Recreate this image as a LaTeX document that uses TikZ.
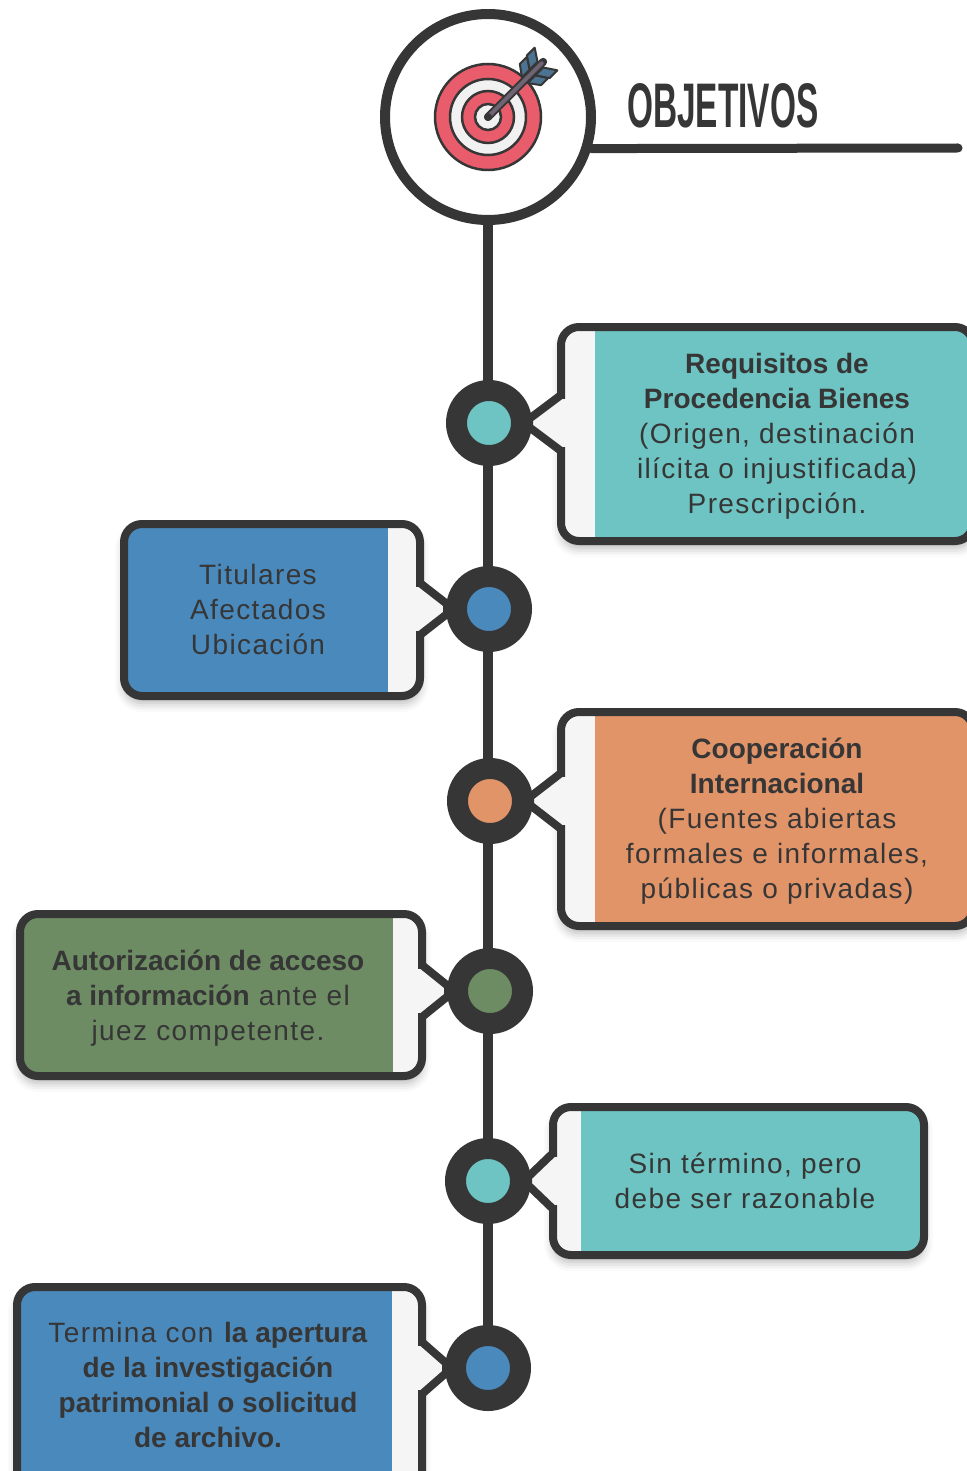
\documentclass[tikz,border=0pt]{standalone}
\usepackage{fontspec}
\setmainfont{Liberation Sans}[LetterSpace=5,BoldFeatures={LetterSpace=0}]
\newfontfamily\headfont{Liberation Sans}[FakeStretch=0.53]
\usetikzlibrary{calc,shadows.blur}
\definecolor{ink}{HTML}{363636}
\definecolor{strip}{HTML}{F5F5F5}
\definecolor{cteal}{HTML}{6DC4C2}
\definecolor{cblue}{HTML}{4A89BC}
\definecolor{corange}{HTML}{E29469}
\definecolor{cgreen}{HTML}{6D8C63}
\definecolor{tred}{HTML}{E95C6B}
\definecolor{twhite}{HTML}{F1F1F1}
\definecolor{shaft}{HTML}{6E6474}
\definecolor{feather}{HTML}{4C7391}
\tikzset{%
  box/.style={rounded corners=18pt, draw=ink, line width=8pt, fill=strip, inner sep=0pt, outer sep=0pt,%
    blur shadow={shadow xshift=0pt, shadow yshift=-7pt, shadow blur radius=9pt, shadow opacity=30}},%
  rbox/.style 2 args={box, path picture={\fill[#1, sharp corners]
      ([xshift=#2pt]path picture bounding box.south west) rectangle (path picture bounding box.north east);}},%
  lbox/.style 2 args={box, path picture={\fill[#1, sharp corners]
      (path picture bounding box.south west) rectangle ([xshift=-#2pt]path picture bounding box.north east);}},%
  pointer/.style={fill=strip, draw=ink, line width=8pt, line cap=round},%
  dot/.style={circle, draw=ink, line width=21pt, minimum size=65pt, inner sep=0pt},%
  spine/.style={draw=ink, line width=10pt},%
  txt/.style={text=ink, align=center, font=\fontsize{28}{35}\selectfont},%
  head/.style={text=ink, font=\headfont\bfseries\fontsize{63}{63}\selectfont, inner sep=0pt}%
}
\begin{document}
\begin{tikzpicture}[x=1pt,y=-1pt]
  \useasboundingbox (0,0) rectangle (966,1471);
  % points of the timeline
  \coordinate (p1) at (489,423);
  \coordinate (p2) at (489,609);
  \coordinate (p3) at (490,801);
  \coordinate (p4) at (490,991);
  \coordinate (p5) at (488,1181);
  \coordinate (p6) at (488,1368);
  \coordinate (ruleend) at (958,148);

  % heading
  \node[circle, draw=ink, fill=white, line width=10pt, minimum size=206pt] (goal) at (488,117) {};
  \draw[spine] (goal.south) -- (p6);
  \draw[spine, line width=9pt, line cap=round] (goal.-17.5) -- (ruleend);
  \node[head, anchor=base west] (title) at (627,128) {OBJETIVOS};

  % target icon
  \begin{scope}[shift={(goal.center)}]
    \filldraw[fill=tred, draw=ink, line width=2.5pt] (0,0) circle (53pt);
    \filldraw[fill=twhite, draw=ink, line width=2.5pt] (0,0) circle (38pt);
    \filldraw[fill=tred, draw=ink, line width=2.5pt] (0,0) circle (26pt);
    \filldraw[fill=twhite, draw=ink, line width=2.5pt] (0,0) circle (13pt);
  \end{scope}
  \begin{scope}[shift={(goal.center)}, rotate=45]
    \filldraw[fill=feather, draw=ink, line width=2pt, line join=round] (52,-4) -- (60,-15) -- (70,-15) -- (63,-4) -- cycle;
    \filldraw[fill=feather, draw=ink, line width=2pt, line join=round] (63,-4) -- (71,-16) -- (82,-16) -- (74,-4) -- cycle;
    \filldraw[fill=feather, draw=ink, line width=2pt, line join=round] (52,4) -- (60,15) -- (70,15) -- (63,4) -- cycle;
    \filldraw[fill=feather, draw=ink, line width=2pt, line join=round] (63,4) -- (71,16) -- (82,16) -- (74,4) -- cycle;
    \draw[ink, line width=8pt, line cap=round] (0,0) -- (78,0);
    \draw[shaft, line width=4pt, line cap=round] (2,0) -- (76,0);
    \fill[ink] (0,0) circle (4pt);
  \end{scope}

  % boxes
  \node[rbox={cteal}{34}, minimum width=412pt, minimum height=214pt] (b1) at (767,434) {};
  \fill[strip] ($(b1.west |- p1)+(-5,-24)$) rectangle ($(b1.west |- p1)+(5,24)$);
  \filldraw[pointer] ($(b1.west |- p1)+(0,-28)$) -- ($(p1)+(40,-4)$) -- ($(p1)+(40,4)$) -- ($(b1.west |- p1)+(0,28)$);

  \node[lbox={cblue}{32}, minimum width=296pt, minimum height=172pt] (b2) at (272,610) {};
  \fill[strip] ($(b2.east |- p2)+(-5,-22)$) rectangle ($(b2.east |- p2)+(5,22)$);
  \filldraw[pointer] ($(b2.east |- p2)+(0,-26)$) -- ($(p2)+(-42,-5)$) -- ($(p2)+(-42,5)$) -- ($(b2.east |- p2)+(0,26)$);

  \node[rbox={corange}{34}, minimum width=412pt, minimum height=214pt] (b3) at (767,819) {};
  \fill[strip] ($(b3.west |- p3)+(-5,-24)$) rectangle ($(b3.west |- p3)+(5,24)$);
  \filldraw[pointer] ($(b3.west |- p3)+(0,-28)$) -- ($(p3)+(40,-4)$) -- ($(p3)+(40,4)$) -- ($(b3.west |- p3)+(0,28)$);

  \node[lbox={cgreen}{29}, minimum width=402pt, minimum height=162pt] (b4) at (221,995) {};
  \fill[strip] ($(b4.east |- p4)+(-5,-22)$) rectangle ($(b4.east |- p4)+(5,22)$);
  \filldraw[pointer] ($(b4.east |- p4)+(0,-26)$) -- ($(p4)+(-42,-5)$) -- ($(p4)+(-42,5)$) -- ($(b4.east |- p4)+(0,26)$);

  \node[rbox={cteal}{28}, minimum width=371pt, minimum height=148pt] (b5) at (738.5,1181) {};
  \fill[strip] ($(b5.west |- p5)+(-5,-24)$) rectangle ($(b5.west |- p5)+(5,24)$);
  \filldraw[pointer] ($(b5.west |- p5)+(0,-28)$) -- ($(p5)+(40,-4)$) -- ($(p5)+(40,4)$) -- ($(b5.west |- p5)+(0,28)$);

  \node[lbox={cblue}{30}, minimum width=405pt, minimum height=209pt] (b6) at (219.5,1391.5) {};
  \fill[strip] ($(b6.east |- p6)+(-5,-22)$) rectangle ($(b6.east |- p6)+(5,22)$);
  \filldraw[pointer] ($(b6.east |- p6)+(0,-26)$) -- ($(p6)+(-42,-5)$) -- ($(p6)+(-42,5)$) -- ($(b6.east |- p6)+(0,26)$);

  % dots
  \node[dot, fill=cteal] (d1) at (p1) {};
  \node[dot, fill=cblue] (d2) at (p2) {};
  \node[dot, fill=corange] (d3) at (p3) {};
  \node[dot, fill=cgreen] (d4) at (p4) {};
  \node[dot, fill=cteal] (d5) at (p5) {};
  \node[dot, fill=cblue] (d6) at (p6) {};

  % texts
  \node[txt] (t1) at (777,436) {\textbf{Requisitos de}\\ \textbf{Procedencia Bienes}\\ (Origen, destinación\\ ilícita o injustificada)\\ Prescripción.};
  \node[txt] (t2) at (258,609) {Titulares\\ Afectados\\ Ubicación};
  \node[txt] (t3) at (777,821) {\textbf{Cooperación}\\ \textbf{Internacional}\\ (Fuentes abiertas\\ formales e informales,\\ públicas o privadas)};
  \node[txt] (t4) at (208,998) {\textbf{Autorización de acceso}\\ \textbf{a información} ante el\\ juez competente.};
  \node[txt] (t5) at (745,1181) {Sin término, pero\\ debe ser razonable};
  \node[txt] (t6) at (208,1385) {Termina con \textbf{la apertura}\\ \textbf{de la investigación}\\ \textbf{patrimonial o solicitud}\\ \textbf{de archivo.}};
\end{tikzpicture}
\end{document}
